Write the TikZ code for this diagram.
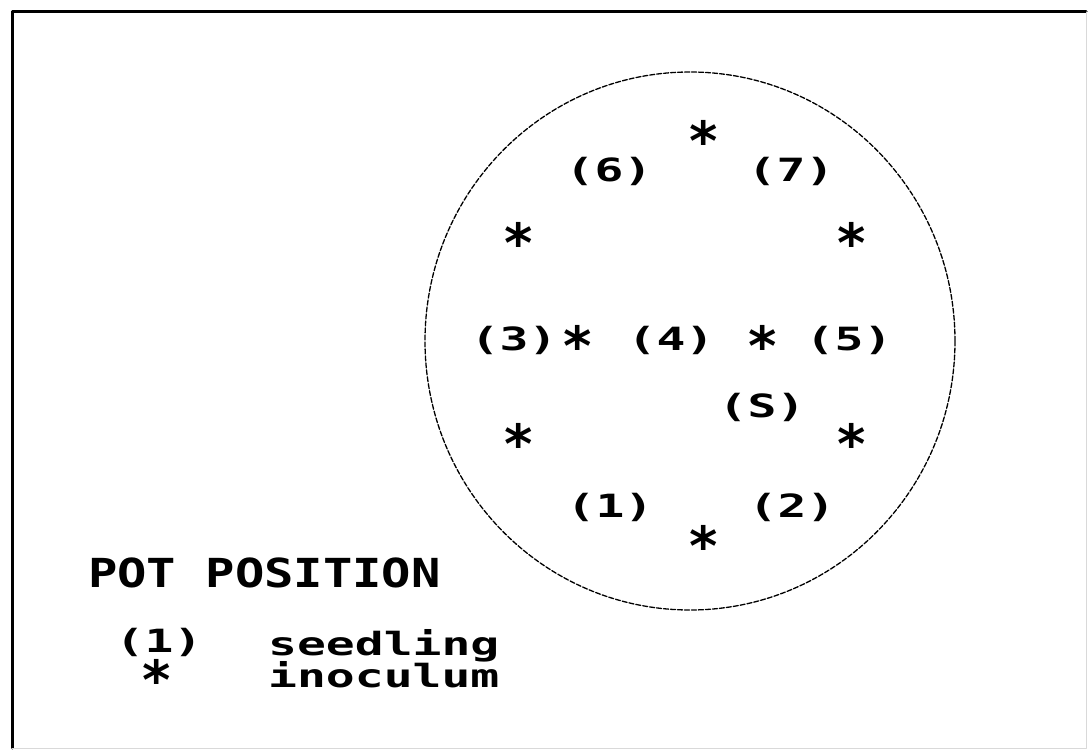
\documentclass[tikz,border=0pt]{standalone}
\usepackage{fontspec}
\newfontfamily\dotfont[FakeStretch=1.5]{DejaVu Sans Mono Bold}
\newfontfamily\capfont[FakeStretch=1.22]{DejaVu Sans Mono Bold}
\newfontfamily\starfont{DejaVu Sans Mono Bold}

\begin{document}
\begin{tikzpicture}[
  x=1pt, y=-1pt,
  line cap=round,
  line join=round,
  every node/.style={inner sep=0pt, font=\dotfont\fontsize{32}{32}\selectfont,
    text height=23.4pt, text depth=0pt},
  inoc/.style={font=\starfont\fontsize{54}{54}\selectfont,
    text height=12pt, text depth=12pt}
]
  \useasboundingbox (0,0) rectangle (1090,751);

  % frame
  \draw[line width=3pt] (12,748) -- (12,12) -- (1086,12);
  \draw[line width=1pt, black!15] (1086,12) -- (1086,748) -- (12,748);

  % pot
  \coordinate (pot) at (690,341);
  \draw[line width=1.3pt, dash pattern=on 5pt off 2pt]
    (pot) ellipse [x radius=265, y radius=269];

  % seedlings
  \node (s6) at (609,170) {(6)};
  \node (s7) at (791,170) {(7)};
  \node (s3) at (514,339) {(3)};
  \node (s4) at (671,339) {(4)};
  \node (s5) at (849,339) {(5)};
  \node (sS) at (762,406) {(S)};
  \node (s1) at (610,506) {(1)};
  \node (s2) at (792,506) {(2)};

  % inoculum
  \node[inoc] (i1) at (704,135) {\raisebox{-0.476em}{*}};
  \node[inoc] (i2) at (519,237) {\raisebox{-0.476em}{*}};
  \node[inoc] (i3) at (852,237) {\raisebox{-0.476em}{*}};
  \node[inoc] (i4) at (578,340) {\raisebox{-0.476em}{*}};
  \node[inoc] (i5) at (763,340) {\raisebox{-0.476em}{*}};
  \node[inoc] (i6) at (519,438) {\raisebox{-0.476em}{*}};
  \node[inoc] (i7) at (852,438) {\raisebox{-0.476em}{*}};
  \node[inoc] (i8) at (704,540) {\raisebox{-0.476em}{*}};

  % key
  \node[anchor=base west, font=\capfont\fontsize{40}{40}\selectfont,
    text height=29pt] (title) at (88,587) {POT POSITION};
  \node[anchor=base] (keyS) at (159,652) {(1)};
  \node[anchor=base west] (keyStxt) at (268,655) {seedling};
  \node[inoc] (keyI) at (157,674) {\raisebox{-0.476em}{*}};
  \node[anchor=base west] (keyItxt) at (268,687) {inoculum};
\end{tikzpicture}
\end{document}
